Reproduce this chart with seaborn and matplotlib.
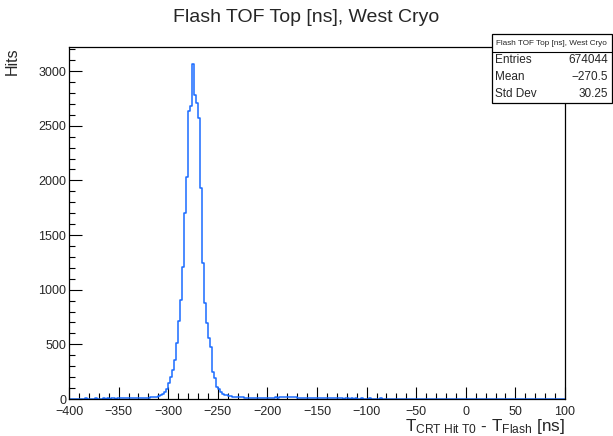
import numpy as np
import pandas as pd
import seaborn as sns
import matplotlib
matplotlib.use("Agg")
import matplotlib.pyplot as plt
from matplotlib.ticker import MultipleLocator
from matplotlib.patches import Rectangle
from matplotlib.lines import Line2D

sns.set_style("ticks")
plt.rcParams["font.family"] = ["Liberation Sans", "DejaVu Sans"]
plt.rcParams["mathtext.fontset"] = "custom"
plt.rcParams["mathtext.rm"] = "Liberation Sans"
plt.rcParams["mathtext.it"] = "Liberation Sans:italic"
plt.rcParams["mathtext.bf"] = "Liberation Sans:bold"

# ---------------- data ----------------
TITLE = "Flash TOF Top [ns], West Cryo"
X_LABEL = r"T$_{\mathrm{CRT\ Hit\ T0}}$ - T$_{\mathrm{Flash}}$ [ns]"
Y_LABEL = "Hits"
BIN_START, BIN_STOP, BIN_WIDTH = -400, 100, 2

# bins -400 ... -310
left_tail = [3, 2, 4, 3, 3, 4, 2, 3, 5, 3,
             4, 3, 4, 5, 3, 4, 4, 5, 3, 5,
             4, 5, 6, 4, 5, 6, 5, 6, 5, 7,
             6, 7, 8, 7, 8, 9, 8, 10, 11, 12,
             13, 15, 17, 19, 22, 28]
# bins -308 ... -242
peak = [36, 46, 67, 89, 144, 199, 265, 357, 510, 716,
        906, 1205, 1699, 2028, 2635, 2683, 3060, 2781, 2705, 2568,
        1928, 1247, 876, 698, 555, 473, 250, 189, 113, 89,
        62, 50, 40, 34]
# bins -240 ... 98
right_tail = [29, 26, 22, 20, 18, 16, 15, 14, 13, 12,
              12, 11, 12, 10, 11, 10, 11, 10, 12, 11,
              12, 11, 13, 12, 14, 13, 15, 14, 16, 15,
              17, 16, 16, 15, 14, 13, 12, 11, 10, 10,
              9, 9, 8, 8, 7, 8, 7, 6, 7, 6,
              6, 6, 5, 6, 5, 5, 6, 5, 4, 5,
              5, 4, 5, 4, 5, 4, 4, 5, 4, 4,
              4, 5, 4, 4, 3, 4, 4, 5, 4, 3,
              4, 3, 4, 4, 3, 4, 3, 3, 4, 3,
              3, 4, 3, 3, 4, 3, 3, 4, 3, 3,
              3, 3, 4, 3, 3, 3, 4, 3, 3, 3,
              3, 3, 3, 4, 3, 3, 3, 3, 3, 3,
              3, 3, 3, 4, 3, 3, 3, 4, 3, 3,
              3, 3, 3, 3, 3, 4, 3, 3, 3, 3,
              3, 3, 4, 3, 3, 3, 3, 3, 3, 3,
              3, 3, 3, 3, 4, 3, 3, 3, 3, 3,
              3, 3, 3, 3, 3, 3, 3, 3, 4, 3]

x_ticks = [-400, -350, -300, -250, -200, -150, -100, -50, 0, 50, 100]
y_ticks = [0, 500, 1000, 1500, 2000, 2500, 3000]

stats_header = "Flash TOF Top [ns], West Cryo"
stats_names = ["Entries", "Mean", "Std Dev"]
stats_values = ["674044", "\u2212270.5", "30.25"]

# ---------------- build ----------------
counts = np.array(left_tail + peak + right_tail, dtype=float)
edges = np.arange(BIN_START, BIN_STOP + BIN_WIDTH, BIN_WIDTH)
centers = (edges[:-1] + edges[1:]) / 2
df = pd.DataFrame({"t": centers, "hits": counts})

W, H = 613, 436
fig = plt.figure(figsize=(W / 100, H / 100), dpi=100)
ax = fig.add_axes([69 / W, 1 - 399 / H, 496 / W, 352 / H])

sns.histplot(data=df, x="t", weights="hits", binwidth=BIN_WIDTH,
             binrange=(BIN_START, BIN_STOP), element="step",
             fill=False, color="#1a6bff", linewidth=1.1, ax=ax)

ax.set_xlim(BIN_START, BIN_STOP)
ax.set_ylim(0, 3220)
ax.set_xticks(x_ticks)
ax.set_yticks(y_ticks)
ax.xaxis.set_minor_locator(MultipleLocator(10))
ax.yaxis.set_minor_locator(MultipleLocator(100))
ax.tick_params(which="both", direction="in", top=False, right=False,
               color="black", width=0.8)
ax.tick_params(which="major", length=9, labelsize=9)
ax.tick_params(which="minor", length=4.5)
ax.tick_params(axis="y", which="major", pad=2)
ax.tick_params(axis="x", which="major", pad=5)
for s in ax.spines.values():
    s.set_visible(True)
    s.set_linewidth(0.9)
    s.set_color("black")

ax.set_xlabel(X_LABEL, fontsize=12.3, loc="right")
ax.xaxis.set_label_coords(1.0, -0.05)
ax.xaxis.label.set_va("top")
ax.set_ylabel(Y_LABEL, fontsize=11.5, loc="top")
ax.yaxis.set_label_coords(-0.10, 1.0)

fig.text(0.5, 1 - 18 / H, TITLE, ha="center", va="center", fontsize=14)

# stats box
bx0, bx1, by0, by1, bsep = 491.5, 611.5, 34.5, 103.5, 51.7
fig.patches.append(Rectangle((bx0 / W, 1 - by1 / H), (bx1 - bx0) / W, (by1 - by0) / H,
                             transform=fig.transFigure, facecolor="white",
                             edgecolor="black", linewidth=0.9, zorder=10))
fig.lines.append(Line2D([bx0 / W, bx1 / W], [1 - bsep / H, 1 - bsep / H],
                        transform=fig.transFigure, color="black", linewidth=0.8, zorder=11))
fig.text((bx0 + bx1) / 2 / W, 1 - 43.3 / H, stats_header, ha="center", va="center",
         fontsize=5.9, zorder=12)
row_y = [60.0, 77.0, 94.0]
for name, val, yy in zip(stats_names, stats_values, row_y):
    fig.text(495 / W, 1 - yy / H, name, ha="left", va="center", fontsize=8.5, zorder=12)
    fig.text(608 / W, 1 - yy / H, val, ha="right", va="center", fontsize=8.5, zorder=12)

fig.savefig("out.png", dpi=100)
